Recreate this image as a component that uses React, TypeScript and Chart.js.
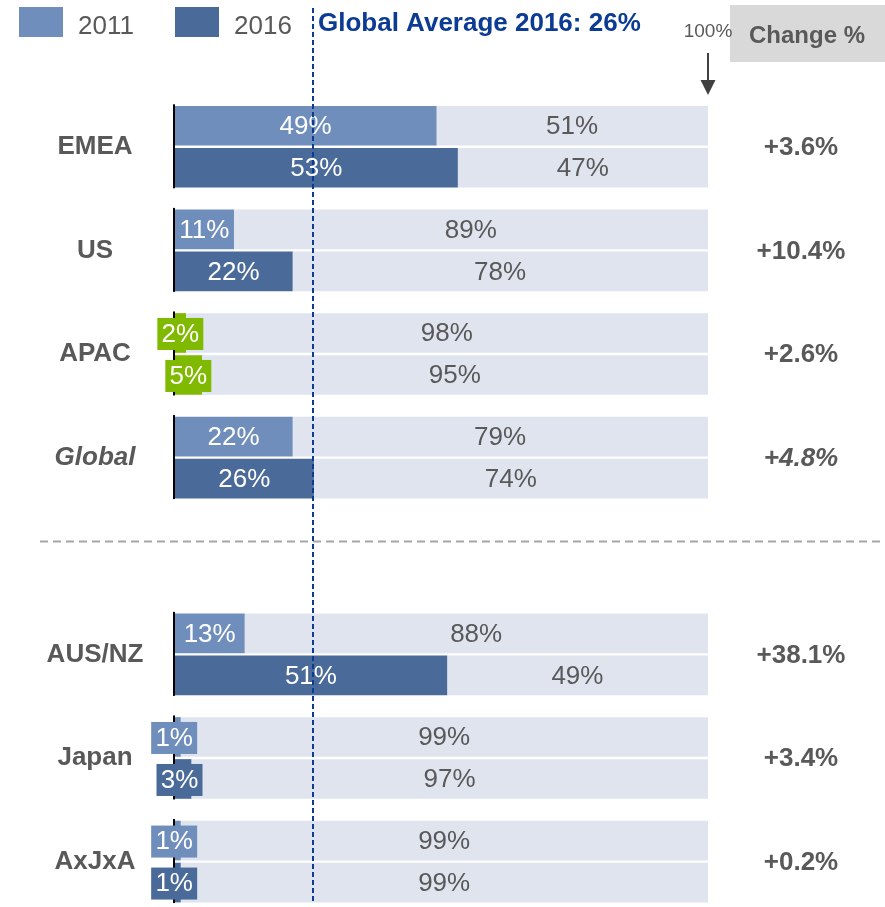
import React, { useEffect, useRef } from "react";
import { Chart, registerables } from "chart.js";

Chart.register(...registerables);

// ---- data ----
const regions = ["EMEA", "US", "APAC", "Global", "AUS/NZ", "Japan", "AxJxA"];
const share2011 = [49, 11, 2, 22, 13, 1, 1];
const rest2011 = [51, 89, 98, 79, 88, 99, 99];
const share2016 = [53, 22, 5, 26, 51, 3, 1];
const rest2016 = [47, 78, 95, 74, 49, 97, 99];
const changeLabels = ["+3.6%", "+10.4%", "+2.6%", "+4.8%", "+38.1%", "+3.4%", "+0.2%"];
const seriesNames = ["2011", "2016"];
const globalAverage2016 = 26;
const axisMax = 100;

// ---- layout / style ----
const SECTION_BREAK_AFTER = 3; // after "Global"
const SECTION_GAP = 0.9;
const ITALIC_ROWS = ["Global"];
const GREEN_ROWS = ["APAC"];
const SMALL_VALUE = 5;

const C2011 = "#6f8ebb";
const C2016 = "#4a6a99";
const REST = "#dfe4ef";
const GREEN = "#7fba00";
const TEXT = "#595959";
const NAVY = "#0c3b94";
const FONT = "'Liberation Sans', Arial, sans-serif";

const rowPos = regions.map((_, i) => i + (i > SECTION_BREAK_AFTER ? SECTION_GAP : 0));

const colorFor = (base: string) => regions.map((r) => (GREEN_ROWS.includes(r) ? GREEN : base));

const overlay = {
  id: "overlay",
  afterDatasetsDraw(chart: any) {
    const ctx = chart.ctx as CanvasRenderingContext2D;
    const area = chart.chartArea;
    const xs = chart.scales.x;
    const ys = chart.scales.y;
    const m0 = chart.getDatasetMeta(0);
    const m1 = chart.getDatasetMeta(1);
    const m2 = chart.getDatasetMeta(2);
    const m3 = chart.getDatasetMeta(3);
    ctx.save();

    // axis segments per group
    ctx.fillStyle = "#000000";
    regions.forEach((_, i) => {
      const a = m0.data[i];
      const b = m2.data[i];
      const top = a.y - a.height / 2 - 2;
      const bottom = b.y + b.height / 2 + 1;
      ctx.fillRect(area.left - 2, top, 2, bottom - top);
    });

    ctx.textAlign = "center";
    ctx.textBaseline = "middle";
    ctx.font = `26px ${FONT}`;

    // rest labels
    [
      [m1, rest2011],
      [m3, rest2016],
    ].forEach(([meta, vals]: any) => {
      vals.forEach((v: number, i: number) => {
        const el = meta.data[i];
        const cx = (el.base + Math.min(el.x, area.right)) / 2;
        ctx.fillStyle = TEXT;
        ctx.fillText(`${v}%`, cx, el.y + 1);
      });
    });

    // share labels
    [
      [m0, share2011, colorFor(C2011)],
      [m2, share2016, colorFor(C2016)],
    ].forEach(([meta, vals, cols]: any) => {
      vals.forEach((v: number, i: number) => {
        const el = meta.data[i];
        let cx = (el.base + el.x) / 2;
        if (v <= SMALL_VALUE) {
          if (!GREEN_ROWS.includes(regions[i])) cx -= 3.5;
          ctx.fillStyle = cols[i];
          ctx.fillRect(cx - 23, el.y - 15, 46, 32);
        }
        ctx.fillStyle = "#ffffff";
        ctx.fillText(`${v}%`, cx, el.y + 1.5);
      });
    });

    // category + change labels
    regions.forEach((r, i) => {
      const y = ys.getPixelForValue(rowPos[i]);
      const it = ITALIC_ROWS.includes(r) ? "italic " : "";
      ctx.font = `${it}bold 26px ${FONT}`;
      ctx.fillStyle = TEXT;
      ctx.fillText(r, 95, y);
      ctx.fillText(changeLabels[i], 801, y + 1);
    });

    // section separator
    const sepY = Math.round(ys.getPixelForValue(rowPos[SECTION_BREAK_AFTER] + 0.81)) + 0.5;
    ctx.strokeStyle = "#a6a6a6";
    ctx.lineWidth = 2;
    ctx.setLineDash([8, 5]);
    ctx.beginPath();
    ctx.moveTo(40, sepY);
    ctx.lineTo(882, sepY);
    ctx.stroke();

    // global average line
    const gx = Math.round(xs.getPixelForValue(globalAverage2016)) - 1;
    ctx.strokeStyle = NAVY;
    ctx.lineWidth = 2;
    ctx.setLineDash([5, 3]);
    ctx.beginPath();
    ctx.moveTo(gx, 8);
    ctx.lineTo(gx, 901);
    ctx.stroke();
    ctx.setLineDash([]);

    // header: legend
    ctx.textAlign = "left";
    ctx.textBaseline = "alphabetic";
    ctx.font = `26px ${FONT}`;
    ctx.fillStyle = C2011;
    ctx.fillRect(19, 7, 44, 30);
    ctx.fillStyle = TEXT;
    ctx.fillText(seriesNames[0], 78, 34);
    ctx.fillStyle = C2016;
    ctx.fillRect(175, 7, 44, 30);
    ctx.fillStyle = TEXT;
    ctx.fillText(seriesNames[1], 234, 34);

    // global average title
    ctx.font = `bold 26px ${FONT}`;
    ctx.fillStyle = NAVY;
    ctx.fillText(`Global Average ${seriesNames[1]}: ${globalAverage2016}%`, 318, 31);

    // change % box
    ctx.fillStyle = "#d9d9d9";
    ctx.fillRect(730, 5, 155, 57);
    ctx.fillStyle = TEXT;
    ctx.font = `bold 24px ${FONT}`;
    ctx.textAlign = "center";
    ctx.fillText("Change %", 807, 43);

    // 100% marker
    const hx = xs.getPixelForValue(axisMax);
    ctx.font = `19px ${FONT}`;
    ctx.fillText(`${axisMax}%`, hx, 37);
    ctx.strokeStyle = "#404040";
    ctx.lineWidth = 2;
    ctx.beginPath();
    ctx.moveTo(hx, 53);
    ctx.lineTo(hx, 82);
    ctx.stroke();
    ctx.fillStyle = "#404040";
    ctx.beginPath();
    ctx.moveTo(hx - 7.5, 80);
    ctx.lineTo(hx + 7.5, 80);
    ctx.lineTo(hx, 95);
    ctx.closePath();
    ctx.fill();

    ctx.restore();
  },
};

export default function App() {
  const ref = useRef<HTMLCanvasElement | null>(null);
  useEffect(() => {
    if (!ref.current) return;
    Chart.defaults.font.family = FONT;
    const toPts = (vals: number[]) => vals.map((v, i) => ({ x: v, y: rowPos[i] }));
    const common = { borderWidth: 0, barThickness: 42, maxBarThickness: 39, clip: 0 };
    const chart = new Chart(ref.current, {
      type: "bar",
      data: {
        datasets: [
          { label: "2011", data: toPts(share2011), stack: "a", backgroundColor: colorFor(C2011), ...common },
          { label: "2011 rest", data: toPts(rest2011), stack: "a", backgroundColor: REST, ...common },
          { label: "2016", data: toPts(share2016), stack: "b", backgroundColor: colorFor(C2016), ...common },
          { label: "2016 rest", data: toPts(rest2016), stack: "b", backgroundColor: REST, ...common },
        ] as any,
      },
      options: {
        indexAxis: "y",
        responsive: false,
        animation: false,
        events: [],
        layout: { padding: { left: 175, right: 177, top: 95, bottom: 4 } },
        scales: {
          x: { type: "linear", min: 0, max: axisMax, stacked: true, display: false },
          y: {
            type: "linear",
            reverse: true,
            offset: false,
            grid: { offset: false },
            bounds: "data",
            min: -0.5,
            max: rowPos[rowPos.length - 1] + 0.4,
            display: false,
          },
        },
        plugins: { legend: { display: false }, tooltip: { enabled: false } },
      } as any,
      plugins: [overlay],
    });
    return () => chart.destroy();
  }, []);
  return (
    <div style={{ position: "absolute", left: 0, top: 0, width: 885, height: 907, background: "#ffffff" }}>
      <canvas ref={ref} width={885} height={907} />
    </div>
  );
}
